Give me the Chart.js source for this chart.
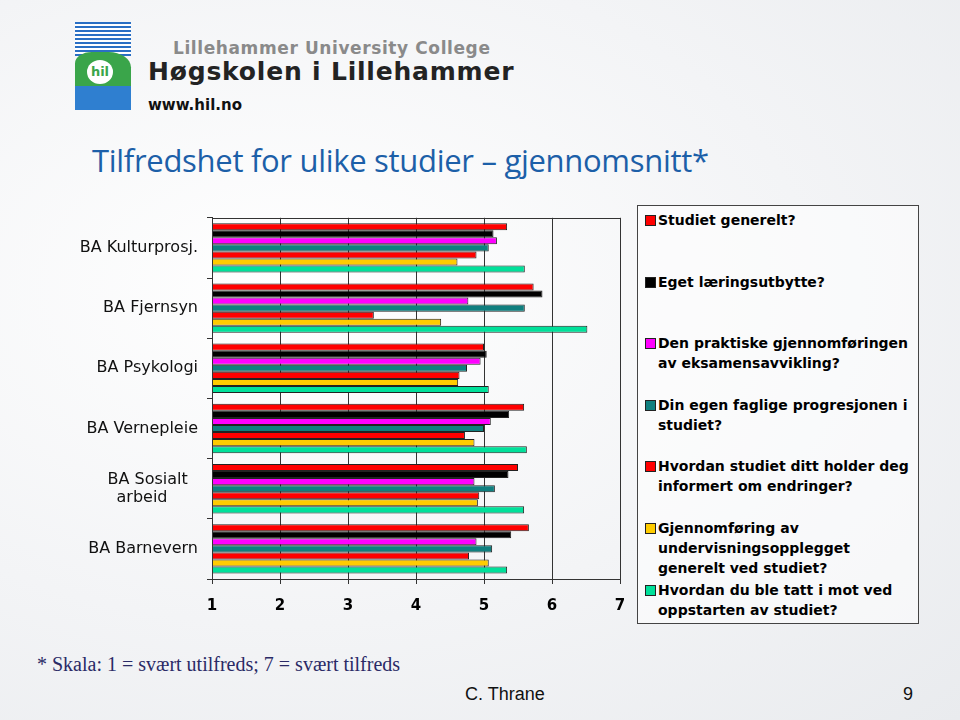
<!DOCTYPE html>
<html>
<head>
<meta charset="utf-8">
<script src="https://cdn.jsdelivr.net/npm/chart.js@4"></script>
<style>
  html, body { margin: 0; padding: 0; }
  body {
    width: 960px; height: 720px; position: relative; overflow: hidden;
    background: radial-gradient(ellipse at 30% 40%, #ffffff 0%, #f3f4f6 55%, #e9ebee 100%);
    font-family: "DejaVu Sans", sans-serif;
  }
  .abs { position: absolute; }
  #logo { left: 75px; top: 22px; width: 56px; height: 88px; }
  #logo .stripes { position: absolute; left: 0; top: 0; width: 56px; height: 34px;
    background: repeating-linear-gradient(#2a6fc4 0 2px, #ffffff 2px 4px); }
  #logo .green { position: absolute; left: 0; top: 30px; width: 56px; height: 38px; background: #3aa54a;
    border-radius: 30% 40% 0 0; }
  #logo .blue { position: absolute; left: 0; top: 64px; width: 56px; height: 24px; background: #2f7fd0; }
  #logo .circle { position: absolute; left: 12px; top: 38px; width: 26px; height: 24px; border-radius: 50%;
    background: #fff; color: #3aa54a; font: bold 13px "DejaVu Sans"; text-align: center; line-height: 24px; }
  #uni { left: 173px; top: 38px; font: bold 17px "DejaVu Sans"; color: #8a8a8a; letter-spacing: 0.6px; }
  #hogs { left: 148px; top: 57px; font: bold 25px "DejaVu Sans"; color: #232323; letter-spacing: 0.8px; }
  #www { left: 148px; top: 96px; font: bold 15px "DejaVu Sans"; color: #111; }
  #title { left: 92px; top: 139px; font: 31px "Open Sans", sans-serif; color: #1c5fa8; letter-spacing: -0.3px; }
  #legend { left: 637px; top: 205px; width: 282px; height: 419px; border: 1px solid #444;
    background: rgba(255,255,255,0.55); box-sizing: border-box; }
  .item { position: absolute; left: 20px; font: bold 14px "DejaVu Sans"; color: #000; line-height: 20px; }
  .sw { position: absolute; left: -13px; top: 5px; width: 9px; height: 9px; border: 1px solid #222; }
  #note { left: 37px; top: 653px; font: 20px "Liberation Serif", serif; color: #2a2a66; }
  #author { left: 465px; top: 684px; font: 18px "Liberation Sans Narrow", "Liberation Sans", sans-serif; color: #111; }
  #page { left: 903px; top: 684px; font: 18px "Liberation Sans", sans-serif; color: #111; }
  #wrap { left: 0; top: 200px; width: 632px; height: 420px; }
</style>
</head>
<body>
<div id="logo" class="abs"><div class="stripes"></div><div class="green"></div><div class="blue"></div><div class="circle">hil</div></div>
<div id="uni" class="abs">Lillehammer University College</div>
<div id="hogs" class="abs">Høgskolen i Lillehammer</div>
<div id="www" class="abs">www.hil.no</div>
<div id="title" class="abs">Tilfredshet for ulike studier – gjennomsnitt*</div>

<div id="wrap" class="abs"><canvas id="chart" width="632" height="420"></canvas></div>

<div id="legend" class="abs"></div>

<div id="note" class="abs">* Skala: 1 = svært utilfreds; 7 = svært tilfreds</div>
<div id="author" class="abs">C. Thrane</div>
<div id="page" class="abs">9</div>

<script>
const categories = ['BA Kulturprosj.', 'BA Fjernsyn', 'BA Psykologi', 'BA Vernepleie', ['BA Sosialt  ', 'arbeid      '], 'BA Barnevern'];

const seriesNames = [
  ['Studiet generelt?'],
  ['Eget læringsutbytte?'],
  ['Den praktiske gjennomføringen', 'av eksamensavvikling?'],
  ['Din egen faglige progresjonen i', 'studiet?'],
  ['Hvordan studiet ditt holder deg', 'informert om endringer?'],
  ['Gjennomføring av', 'undervisningsopplegget', 'generelt ved studiet?'],
  ['Hvordan du ble tatt i mot ved', 'oppstarten av studiet?']
];

const studietGenerelt   = [5.34, 5.73, 5.00, 5.59, 5.50, 5.66];
const egetLaering       = [5.14, 5.86, 5.04, 5.37, 5.36, 5.40];
const eksamen           = [5.19, 4.77, 4.95, 5.10, 4.86, 4.89];
const progresjon        = [5.07, 5.60, 4.75, 5.00, 5.16, 5.12];
const informert         = [4.89, 3.38, 4.64, 4.72, 4.93, 4.78];
const undervisning      = [4.61, 4.37, 4.62, 4.86, 4.91, 5.07];
const mottak            = [5.60, 6.52, 5.07, 5.63, 5.59, 5.34];

const xTicks = [1, 2, 3, 4, 5, 6, 7];

const colors = ['#ff0000', '#000000', '#ff00ff', '#0f7f7f', '#ff0000', '#ffcc00', '#00e09a'];
const values = [studietGenerelt, egetLaering, eksamen, progresjon, informert, undervisning, mottak];

// legend rows sit at fixed heights, like in the slide
const legendTops = [4, 66, 127, 189, 250, 312, 374];
const legend = document.getElementById('legend');
seriesNames.forEach((name, i) => {
  const div = document.createElement('div');
  div.className = 'item';
  div.style.top = legendTops[i] + 'px';
  div.innerHTML = '<span class="sw" style="background:' + colors[i] + '"></span>' + name.join('<br>');
  legend.appendChild(div);
});

const frame = {
  id: 'frame',
  afterDraw(chart) {
    const a = chart.chartArea, ctx = chart.ctx;
    ctx.save();
    ctx.strokeStyle = '#333';
    ctx.lineWidth = 1;
    ctx.strokeRect(Math.round(a.left) + 0.5, Math.round(a.top) + 0.5, Math.round(a.right - a.left), Math.round(a.bottom - a.top));
    ctx.restore();
  }
};

new Chart(document.getElementById('chart'), {
  type: 'bar',
  data: {
    labels: categories,
    datasets: values.map((v, i) => ({
      label: seriesNames[i].join(' '),
      data: v,
      backgroundColor: colors[i],
      borderColor: '#222',
      borderWidth: 1,
      borderSkipped: false,
      barPercentage: 1.0,
      categoryPercentage: 0.82
    }))
  },
  options: {
    indexAxis: 'y',
    responsive: false,
    animation: false,
    layout: { padding: { top: 14, right: 12, left: 0, bottom: 0 } },
    plugins: { legend: { display: false }, tooltip: { enabled: false } },
    scales: {
      x: {
        min: 1, max: 7,
        afterBuildTicks: s => { s.ticks = xTicks.map(v => ({ value: v })); },
        afterFit: s => { s.height = 41; s.paddingRight = 0; },
        grid: { color: '#333', lineWidth: 1, tickLength: 5, tickColor: '#333' },
        border: { color: '#333' },
        ticks: { color: '#000', padding: 13, font: { family: 'DejaVu Sans', size: 15, weight: 'bold' } }
      },
      y: {
        afterFit: s => { s.width = 212; },
        grid: { drawOnChartArea: false, offset: true, tickLength: 5, tickColor: '#333' },
        border: { color: '#333' },
        ticks: { color: '#111', padding: 9, font: { family: 'DejaVu Sans', size: 16, lineHeight: 1.1 } }
      }
    }
  },
  plugins: [frame]
});
</script>
</body>
</html>
